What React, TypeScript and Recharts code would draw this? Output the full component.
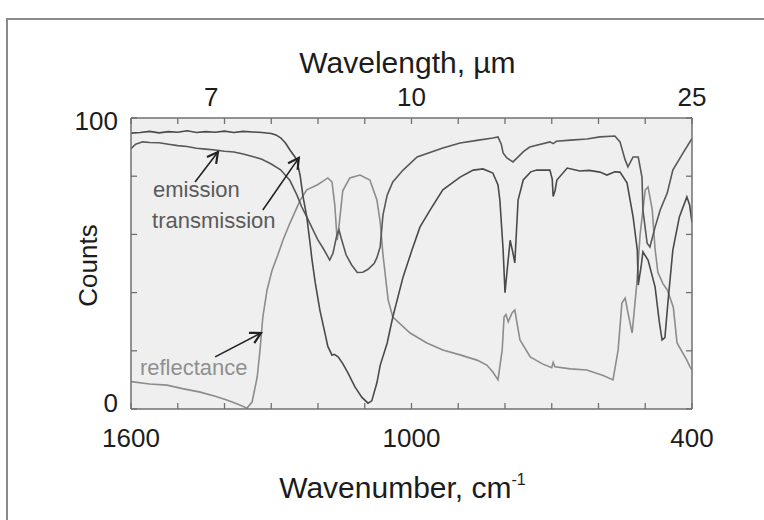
import React from 'react';
import { LineChart, Line, XAxis, YAxis, CartesianGrid, ReferenceLine, ReferenceDot, Label } from 'recharts';

const FONT = "'Liberation Sans', Arial, Helvetica, sans-serif";

// wavenumber ticks (cm-1) shared by bottom and top axes
const wavenumberTicks = [1600, 1500, 1400, 1300, 1200, 1100, 1000, 900, 800, 700, 600, 500, 400];
const wavenumberLabels: Record<number, string> = { 1600: '1600', 1000: '1000', 400: '400' };
// top axis: wavelength labels (µm) at 10000/λ
const wavelengthValues = [7, 10, 25];
const wavelengthLabels = ['7', '10', '25'];
const countTicks = [0, 20, 40, 60, 80, 100];
const countLabels: Record<number, string> = { 0: '0', 100: '100' };

// [wavenumber, counts]
const transmission: [number, number][] = [
  [1600, 94.8], [1580, 95.0], [1560, 95.4], [1540, 94.9], [1520, 95.3], [1500, 95.1], [1480, 95.6],
  [1460, 95.0], [1440, 95.3], [1420, 95.1], [1400, 95.5], [1380, 95.0], [1360, 95.4], [1340, 95.2],
  [1320, 95.0], [1300, 94.7], [1290, 94.2], [1280, 93.2], [1270, 91.5], [1260, 89.0], [1250, 86.8],
  [1245, 85.4], [1238, 80.0], [1232, 73.0], [1224, 66.0], [1217, 57.0], [1213, 51.5], [1206, 43.5],
  [1196, 34.0], [1185, 26.0], [1179, 21.5], [1170, 18.5], [1165, 18.8], [1157, 17.9], [1147, 15.6],
  [1136, 12.4], [1121, 7.6], [1106, 4.0], [1093, 2.0], [1085, 2.8], [1074, 9.0], [1067, 15.0],
  [1052, 22.7], [1040, 31.6], [1018, 45.4], [999, 54.6], [982, 62.5], [960, 68.4], [933, 75.3],
  [896, 79.7], [868, 82.1], [847, 82.5], [826, 81.1], [815, 77.0], [811, 71.8], [804, 54.6],
  [800, 40.0], [796, 46.7], [789, 58.0], [783, 53.6], [779, 50.2], [772, 71.8], [761, 78.7],
  [745, 81.5], [732, 82.1], [704, 82.1], [699, 79.0], [697, 73.0], [693, 75.0], [689, 78.7],
  [667, 82.8], [640, 81.8], [620, 82.0], [597, 81.4], [582, 80.4], [565, 81.5], [554, 81.4],
  [539, 77.7], [526, 66.0], [517, 54.6], [515, 42.6], [509, 48.8], [505, 54.0], [494, 51.2],
  [479, 42.0], [470, 30.0], [464, 23.7], [458, 24.5], [451, 37.5], [441, 54.6], [427, 66.0],
  [411, 72.9], [405, 70.0], [400, 64.0],
];

const emission: [number, number][] = [
  [1600, 89.5], [1590, 91.0], [1575, 91.8], [1560, 91.6], [1540, 91.5], [1520, 91.0], [1500, 90.5],
  [1480, 90.2], [1460, 89.6], [1440, 89.3], [1420, 89.0], [1400, 88.6], [1380, 88.3], [1360, 87.6],
  [1340, 86.8], [1320, 85.8], [1300, 84.2], [1280, 82.2], [1260, 78.5], [1245, 73.5], [1235, 69.5],
  [1224, 66.0], [1212, 62.0], [1200, 58.0], [1190, 55.5], [1181, 53.0], [1175, 51.2], [1168, 53.5],
  [1160, 59.5], [1155, 61.5], [1150, 58.5], [1140, 53.0], [1128, 49.5], [1116, 46.9], [1104, 47.0],
  [1093, 48.0], [1080, 50.0], [1074, 52.0], [1067, 55.7], [1061, 66.7], [1052, 73.5], [1040, 78.0],
  [1018, 82.1], [988, 86.6], [933, 89.7], [896, 91.4], [860, 92.3], [826, 93.1], [815, 93.5],
  [808, 91.0], [804, 88.0], [796, 86.3], [783, 84.9], [774, 86.3], [760, 88.5], [747, 90.0],
  [704, 91.8], [697, 91.2], [690, 92.0], [660, 92.4], [625, 92.8], [597, 93.5], [565, 93.8],
  [554, 91.8], [543, 85.6], [537, 83.2], [526, 86.6], [515, 86.6], [507, 79.7], [505, 68.4],
  [496, 57.0], [490, 55.7], [479, 62.5], [468, 68.4], [453, 74.2], [441, 82.1], [419, 88.0],
  [400, 93.0],
];

const reflectance: [number, number][] = [
  [1600, 9.4], [1560, 8.6], [1523, 8.2], [1490, 7.0], [1452, 5.8], [1420, 4.4], [1395, 3.1],
  [1367, 1.4], [1352, 0.3], [1341, 2.4], [1330, 11.0], [1324, 20.3], [1318, 31.6], [1309, 40.9],
  [1298, 47.8], [1286, 52.9], [1275, 58.0], [1260, 63.9], [1238, 71.8], [1224, 75.3], [1202, 77.0],
  [1190, 78.2], [1179, 79.4], [1170, 78.0], [1164, 70.0], [1159, 58.0], [1155, 63.0], [1147, 75.0],
  [1132, 79.4], [1110, 80.4], [1089, 78.7], [1074, 71.8], [1067, 64.3], [1061, 53.0], [1050, 37.5],
  [1040, 31.6], [1003, 26.1], [967, 22.7], [933, 20.3], [896, 18.6], [860, 16.8], [839, 15.1],
  [826, 12.7], [815, 10.0], [806, 20.3], [802, 31.6], [798, 32.5], [793, 30.0], [785, 33.0],
  [779, 34.0], [768, 23.7], [746, 17.9], [720, 15.5], [700, 14.2], [697, 16.0], [693, 14.5],
  [660, 13.8], [625, 13.4], [590, 11.5], [569, 10.0], [558, 20.3], [550, 36.4], [543, 38.1],
  [537, 33.0], [528, 26.1], [518, 43.3], [511, 60.0], [500, 75.3], [494, 76.3], [485, 68.4],
  [479, 55.0], [473, 47.0], [462, 43.0], [453, 41.0], [440, 35.0], [432, 22.7], [411, 16.8],
  [404, 14.4], [400, 13.5],
];

// annotation anchors in data coordinates [wavenumber, counts]
const annotationTexts = [
  { text: 'emission', at: [1553, 72.9], color: '#5a5a5a' },
  { text: 'transmission', at: [1555, 62.2], color: '#5a5a5a' },
  { text: 'reflectance', at: [1581, 11.7], color: '#8f8f8f' },
];
const annotationArrows = [
  { from: [1463, 78.0], to: [1414, 88.3] },
  { from: [1318, 68.4], to: [1241, 86.3] },
  { from: [1420, 17.9], to: [1322, 26.1] },
];

const toRows = (pts: [number, number][]) => pts.map(([w, v]) => ({ w, v }));
const wavelengthTickValues = wavelengthValues.map((l) => 10000 / l);

const AXIS = '#707070';
const TEXT = '#1c1c1c';

const BottomTick = (props: any) => {
  const { x, y, payload } = props;
  const label = wavenumberLabels[payload.value];
  return (
    <g>
      <line x1={x} x2={x} y1={y} y2={y - 6} stroke={AXIS} strokeWidth={1.3} />
      {label && (
        <text x={x} y={y + 38} textAnchor="middle" fontSize={26} fontFamily={FONT} fill={TEXT}>
          {label}
        </text>
      )}
    </g>
  );
};

const TopTick = (props: any) => {
  const { x, y, payload } = props;
  const idx = wavelengthTickValues.findIndex((t) => Math.abs(t - payload.value) < 1e-6);
  const isGrid = wavenumberTicks.includes(payload.value);
  return (
    <g>
      {isGrid && <line x1={x} x2={x} y1={y} y2={y + 6} stroke={AXIS} strokeWidth={1.3} />}
      {idx >= 0 && (
        <text x={x} y={y - 12} textAnchor="middle" fontSize={26} fontFamily={FONT} fill={TEXT}>
          {wavelengthLabels[idx]}
        </text>
      )}
    </g>
  );
};

const LeftTick = (props: any) => {
  const { x, y, payload } = props;
  const label = countLabels[payload.value];
  return (
    <g>
      <line x1={x} x2={x + 6} y1={y} y2={y} stroke={AXIS} strokeWidth={1.3} />
      {label && (
        <text x={x - 13} y={y + (payload.value === 0 ? 3 : 12)} textAnchor="end" fontSize={26} fontFamily={FONT} fill={TEXT}>
          {label}
        </text>
      )}
    </g>
  );
};

const RightTick = (props: any) => {
  const { x, y } = props;
  return <line x1={x} x2={x - 6} y1={y} y2={y} stroke={AXIS} strokeWidth={1.3} />;
};

const ArrowShape = (p: any) => {
  const { x1, y1, x2, y2 } = p;
  const ang = Math.atan2(y2 - y1, x2 - x1);
  const L = 12;
  const a = 0.5;
  const ax = x2 - L * Math.cos(ang - a);
  const ay = y2 - L * Math.sin(ang - a);
  const bx = x2 - L * Math.cos(ang + a);
  const by = y2 - L * Math.sin(ang + a);
  return (
    <g>
      <line x1={x1} y1={y1} x2={x2} y2={y2} stroke="#222" strokeWidth={1.6} />
      <polyline points={`${ax},${ay} ${x2},${y2} ${bx},${by}`} fill="none" stroke="#222" strokeWidth={2.2} />
    </g>
  );
};

export default function App() {
  return (
    <div style={{ position: 'absolute', left: 0, top: 0, width: 764, height: 520, background: '#fff', overflow: 'hidden' }}>
      <div
        style={{
          position: 'absolute', left: 6, top: 18, width: 800, height: 600,
          borderTop: '2px solid #8a8a8a', borderLeft: '2px solid #8a8a8a',
        }}
      />
      <div style={{ position: 'absolute', left: 0, top: 0 }}>
        <LineChart width={764} height={520} margin={{ top: 0, right: 0, bottom: 0, left: 0 }}>
          <CartesianGrid fill="#efefef" horizontal={false} vertical={false} />
          <XAxis
            type="number" dataKey="w" domain={[400, 1600]} reversed allowDataOverflow
            ticks={wavenumberTicks} interval={0} tickSize={0} tickMargin={0} height={111}
            tick={<BottomTick />} tickLine={false} stroke={AXIS} strokeWidth={1.5}
          >
            <Label
              content={(p: any) => {
                const vb = p.viewBox;
                return (
                  <text x={vb.x + vb.width / 2 - 9} y={vb.y + 89} textAnchor="middle" fontSize={30} fontFamily={FONT} fill={TEXT}>
                    <tspan>Wavenumber, cm</tspan>
                    <tspan dy={-13} fontSize={16}>-1</tspan>
                  </text>
                );
              }}
            />
          </XAxis>
          <XAxis
            xAxisId="top" orientation="top" type="number" dataKey="w" domain={[400, 1600]} reversed allowDataOverflow
            ticks={[...wavenumberTicks, ...wavelengthTickValues.filter((t) => !wavenumberTicks.includes(t))]}
            interval={0} tickSize={0} tickMargin={0} height={118}
            tick={<TopTick />} tickLine={false} stroke={AXIS} strokeWidth={1.5}
          >
            <Label
              content={(p: any) => {
                const vb = p.viewBox;
                return (
                  <text x={vb.x + vb.width / 2 - 4} y={vb.y + 73} textAnchor="middle" fontSize={30} fontFamily={FONT} fill={TEXT}>
                    Wavelength, µm
                  </text>
                );
              }}
            />
          </XAxis>
          <YAxis
            type="number" domain={[0, 100]} ticks={countTicks} interval={0} tickSize={0} tickMargin={0}
            width={131} tick={<LeftTick />} tickLine={false} stroke={AXIS} strokeWidth={1.5} allowDataOverflow
          >
            <Label
              content={(p: any) => {
                const vb = p.viewBox;
                const cx = 88;
                const cy = vb.y + vb.height / 2 + 2;
                return (
                  <text x={cx} y={cy} transform={`rotate(-90 ${cx} ${cy})`} textAnchor="middle" dominantBaseline="central" fontSize={26} fontFamily={FONT} fill={TEXT}>
                    Counts
                  </text>
                );
              }}
            />
          </YAxis>
          <YAxis
            yAxisId="right" orientation="right" type="number" domain={[0, 100]} ticks={countTicks} interval={0}
            tickSize={0} tickMargin={0} width={72} tick={<RightTick />} tickLine={false} stroke={AXIS} strokeWidth={1.5} allowDataOverflow
          />
          <Line data={toRows(reflectance)} dataKey="v" stroke="#8c8c8c" strokeWidth={1.6} dot={false} isAnimationActive={false} type="linear" />
          <Line data={toRows(emission)} dataKey="v" stroke="#585858" strokeWidth={1.6} dot={false} isAnimationActive={false} type="linear" />
          <Line data={toRows(transmission)} dataKey="v" stroke="#4a4a4a" strokeWidth={1.6} dot={false} isAnimationActive={false} type="linear" />
          {annotationArrows.map((a, i) => (
            <ReferenceLine
              key={`arrow-${i}`}
              segment={[{ x: a.from[0], y: a.from[1] }, { x: a.to[0], y: a.to[1] }]}
              shape={ArrowShape}
              ifOverflow="visible"
            />
          ))}
          {annotationTexts.map((t, i) => (
            <ReferenceDot
              key={`txt-${i}`}
              x={t.at[0]} y={t.at[1]} r={1}
              ifOverflow="visible"
              shape={(p: any) => (
                <text x={p.cx} y={p.cy} fontSize={22} fontFamily={FONT} fill={t.color}>
                  {t.text}
                </text>
              )}
            />
          ))}
        </LineChart>
      </div>
    </div>
  );
}
